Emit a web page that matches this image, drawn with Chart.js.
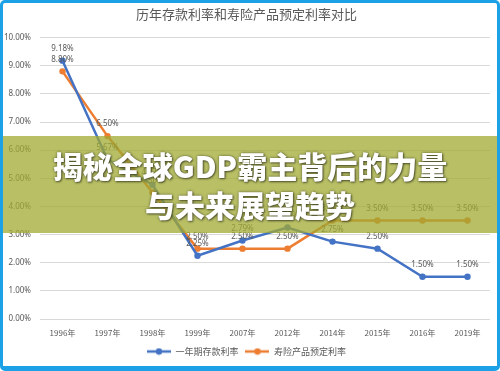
<!DOCTYPE html>
<html>
<head>
<meta charset="utf-8">
<script src="https://cdn.jsdelivr.net/npm/chart.js@4/dist/chart.umd.min.js"></script>
<style>
  html, body { margin: 0; padding: 0; background: #ffffff; }
  #frame {
    position: relative; width: 500px; height: 371px; box-sizing: border-box;
    border: 3px solid #1ca0e6; border-bottom-width: 5px; border-radius: 5px;
    background: #ffffff; overflow: hidden;
  }
  #c { display: block; }
  #banner {
    position: absolute; left: 0px; top: 133px; width: 494px; height: 97px;
    background: rgba(160, 170, 50, 0.75);
    text-align: center; color: #ffffff;
    font-family: "Noto Sans CJK SC", "Noto Sans", sans-serif; font-weight: 900;
    font-size: 30px; line-height: 39px; padding-top: 10px; box-sizing: border-box;
    text-shadow: 0 0 3px rgba(40, 40, 20, 0.6), 1px 1px 2px rgba(40, 40, 20, 0.6);
  }
</style>
</head>
<body>
<div id="frame">
  <canvas id="c" width="494" height="363"></canvas>
  <div id="banner">揭秘全球GDP霸主背后的力量<br>与未来展望趋势</div>
</div>
<script>
const chartTitle = '历年存款利率和寿险产品预定利率对比';
const categories = ['1996年', '1997年', '1998年', '1999年', '2007年', '2012年', '2014年', '2015年', '2016年', '2019年'];
const depositRate = [9.18, 5.67, 4.77, 2.25, 2.79, 3.25, 2.75, 2.50, 1.50, 1.50];
const insuranceRate = [8.80, 6.50, 4.50, 2.50, 2.50, 2.50, 3.50, 3.50, 3.50, 3.50];
const seriesNames = ['一年期存款利率', '寿险产品预定利率'];
const seriesColors = ['#4472c4', '#ed7d31'];

const FONT = "'Noto Sans', 'Noto Sans CJK SC', sans-serif";
const CJK = "'Noto Sans CJK SC', 'Noto Sans', sans-serif";
const TEXT = '#595959';

function legendIcon(color) {
  const cv = document.createElement('canvas');
  cv.width = 24; cv.height = 8;
  const g = cv.getContext('2d');
  g.strokeStyle = color; g.lineWidth = 2.5;
  g.beginPath(); g.moveTo(0, 4); g.lineTo(24, 4); g.stroke();
  g.fillStyle = color;
  g.beginPath(); g.arc(12, 4, 3.2, 0, Math.PI * 2); g.fill();
  return cv;
}
const icons = seriesColors.map(legendIcon);

const valueLabels = {
  id: 'valueLabels',
  afterDatasetsDraw(chart) {
    const ctx = chart.ctx;
    ctx.save();
    ctx.font = '8px ' + FONT;
    ctx.fillStyle = TEXT;
    ctx.textAlign = 'center';
    ctx.textBaseline = 'middle';
    chart.data.datasets.forEach((ds, i) => {
      const meta = chart.getDatasetMeta(i);
      meta.data.forEach((pt, j) => {
        ctx.fillText(ds.data[j].toFixed(2) + '%', pt.x, pt.y - 12);
      });
    });
    ctx.restore();
  }
};

new Chart(document.getElementById('c'), {
  type: 'line',
  data: {
    labels: categories,
    datasets: [
      { label: seriesNames[0], data: depositRate, borderColor: seriesColors[0], backgroundColor: seriesColors[0],
        borderWidth: 2.5, pointRadius: 3.2, pointBackgroundColor: seriesColors[0], pointBorderWidth: 0, tension: 0 },
      { label: seriesNames[1], data: insuranceRate, borderColor: seriesColors[1], backgroundColor: seriesColors[1],
        borderWidth: 2.5, pointRadius: 3.2, pointBackgroundColor: seriesColors[1], pointBorderWidth: 0, tension: 0 }
    ]
  },
  options: {
    responsive: false,
    devicePixelRatio: 1,
    animation: false,
    layout: { padding: { left: 0, right: 7, top: 0, bottom: 0 } },
    plugins: {
      title: { display: true, text: chartTitle, color: TEXT,
        font: { family: CJK, size: 13, weight: 'normal' }, padding: { top: 3, bottom: 16 } },
      legend: {
        position: 'bottom',
        labels: {
          usePointStyle: true, pointStyleWidth: 24, color: TEXT, padding: 7,
          font: { family: CJK, size: 9 },
          generateLabels(chart) {
            return chart.data.datasets.map((ds, i) => ({
              text: ds.label, pointStyle: icons[i], fillStyle: seriesColors[i], strokeStyle: seriesColors[i],
              lineWidth: 0, hidden: false, datasetIndex: i, fontColor: TEXT
            }));
          }
        }
      },
      tooltip: { enabled: false }
    },
    scales: {
      x: {
        offset: true,
        afterFit(scale) { scale.height = 21; },
        grid: { display: false, drawTicks: false },
        border: { display: false },
        ticks: { color: TEXT, font: { family: CJK, size: 8 }, padding: 9, maxRotation: 0 }
      },
      y: {
        min: 0, max: 10,
        afterFit(scale) { scale.width = 37; },
        grid: { color: '#d9d9d9', lineWidth: 1, drawTicks: false },
        border: { display: false },
        ticks: { stepSize: 1, color: TEXT, font: { family: FONT, size: 8 }, padding: 9,
          callback: v => v.toFixed(2) + '%' }
      }
    }
  },
  plugins: [valueLabels]
});
</script>
</body>
</html>
